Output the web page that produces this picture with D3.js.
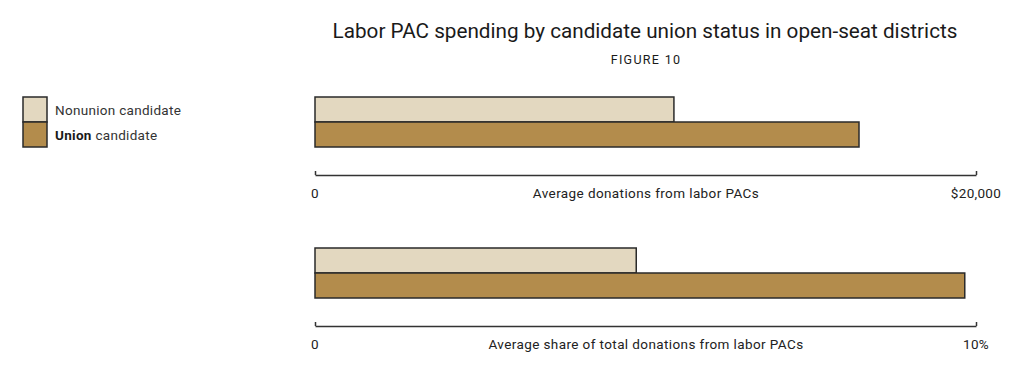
<!DOCTYPE html>
<html><head><meta charset="utf-8">
<script src="https://cdn.jsdelivr.net/npm/d3@7"></script>
<style>body{margin:0;background:#fff}svg{display:block}</style>
</head><body>
<svg id="c" width="1024" height="366"></svg>
<script>
const categories = ["Nonunion candidate", "Union candidate"];
const donations = [10860, 16460];
const shares = [4.86, 9.83];
const panelLabels = ["Average donations from labor PACs", "Average share of total donations from labor PACs"];
const donationTicks = [0, 20000];
const donationTickLabels = ["0", "$20,000"];
const shareTicks = [0, 10];
const shareTickLabels = ["0", "10%"];
const colors = ["#e3d8c0", "#b38c4c"];

const svg = d3.select("#c");
const font = "Roboto, 'Liberation Sans', sans-serif";

svg.append("text").attr("x", 645).attr("y", 38).attr("text-anchor", "middle")
  .attr("font-family", font).attr("font-size", 20.7).attr("fill", "#1a1a1a")
  .text("Labor PAC spending by candidate union status in open-seat districts");
svg.append("text").attr("x", 646).attr("y", 64).attr("text-anchor", "middle")
  .attr("font-family", font).attr("font-size", 12.5).attr("letter-spacing", 1.3).attr("fill", "#1a1a1a")
  .text("FIGURE 10");

// legend
const legY = d3.scaleBand().domain(categories).range([97, 147]);
const leg = svg.append("g");
categories.forEach((c, i) => {
  leg.append("rect").attr("x", 23).attr("y", legY(c)).attr("width", 24).attr("height", legY.bandwidth())
    .attr("fill", colors[i]).attr("stroke", "#2a2a2a").attr("stroke-width", 1.5);
  const t = leg.append("text").attr("x", 55).attr("y", legY(c) + legY.bandwidth() / 2 + 5)
    .attr("font-family", font).attr("font-size", 13.5).attr("letter-spacing", 0.3).attr("fill", "#333");
  const parts = c.split(" ");
  t.append("tspan").attr("font-weight", i === 1 ? 700 : 400).attr("fill", i === 1 ? "#1a1a1a" : "#333").text(parts[0]);
  t.append("tspan").text(" " + parts.slice(1).join(" "));
});

function panel(values, domainMax, ticks, tickLabels, label, barTop, axisY) {
  const x = d3.scaleLinear().domain([0, domainMax]).range([315, 976]);
  const y = d3.scaleBand().domain(categories).range([barTop, barTop + 50]);
  const g = svg.append("g");
  g.selectAll("rect").data(values).join("rect")
    .attr("x", x(0)).attr("y", (d, i) => y(categories[i]))
    .attr("width", d => x(d) - x(0)).attr("height", y.bandwidth())
    .attr("fill", (d, i) => colors[i]).attr("stroke", "#2a2a2a").attr("stroke-width", 1.5);
  const axis = d3.axisTop(x).tickValues(ticks).tickSize(4).tickSizeOuter(0).tickFormat(() => "");
  const ag = g.append("g").attr("transform", `translate(0,${axisY})`).call(axis);
  ag.select(".domain").attr("stroke", "#333").attr("stroke-width", 1.5);
  ag.selectAll(".tick line").attr("stroke", "#333").attr("stroke-width", 1.5);
  ticks.forEach((t, i) => {
    g.append("text").attr("x", x(t)).attr("y", axisY + 23)
      .attr("text-anchor", "middle").attr("font-family", font).attr("font-size", 13.5).attr("letter-spacing", 0.3).attr("fill", "#222")
      .text(tickLabels[i]);
  });
  g.append("text").attr("x", 646).attr("y", axisY + 23).attr("text-anchor", "middle")
    .attr("font-family", font).attr("font-size", 13.5).attr("letter-spacing", 0.4).attr("fill", "#222").text(label);
}
panel(donations, 20000, donationTicks, donationTickLabels, panelLabels[0], 97, 175);
panel(shares, 10, shareTicks, shareTickLabels, panelLabels[1], 248, 326);
</script>
</body></html>
